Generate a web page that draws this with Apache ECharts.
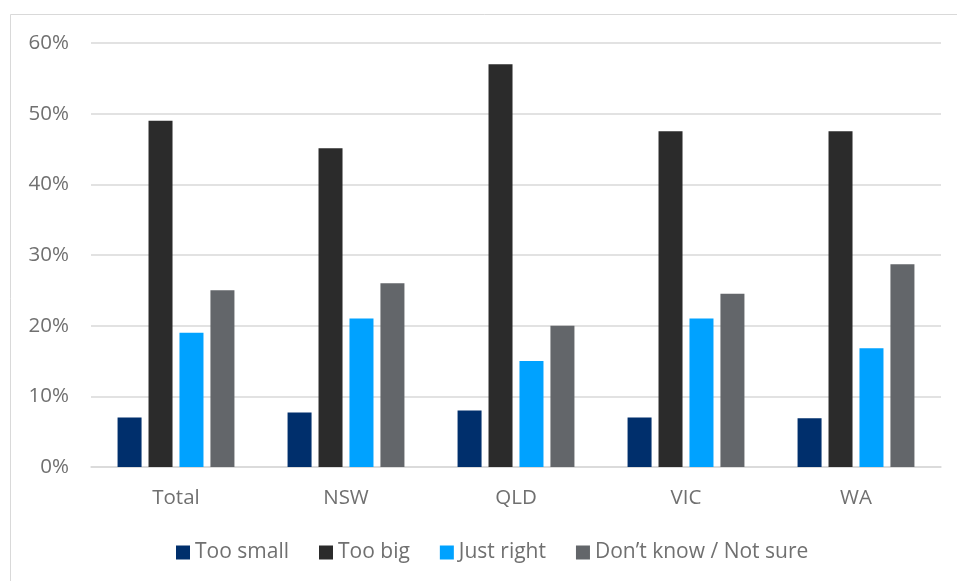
<!DOCTYPE html>
<html>
<head>
<meta charset="utf-8">
<script src="https://cdn.jsdelivr.net/npm/echarts@6/dist/echarts.min.js"></script>
<style>
  html, body { margin: 0; padding: 0; background: #fff; }
  #chart { width: 957px; height: 581px; }
</style>
</head>
<body>
<div id="chart"></div>
<script>
// Regions shown along the x axis
const regions = ['Total', 'NSW', 'QLD', 'VIC', 'WA'];

// Share of responses per region (%)
const tooSmall  = [7, 7.7, 8, 7, 6.9];
const tooBig    = [49, 45.1, 57, 47.5, 47.5];
const justRight = [19, 21, 15, 21, 16.8];
const dontKnow  = [25, 26, 20, 24.5, 28.7];

const seriesNames = ['Too small', 'Too big', 'Just right', 'Don\u2019t know / Not sure'];
const seriesColors = ['#002f6c', '#2b2b2b', '#00a2ff', '#63666a'];
const seriesData = [tooSmall, tooBig, justRight, dontKnow];

const textColor = '#707070';
const fontFamily = '"Open Sans", "Noto Sans", sans-serif';

const chart = echarts.init(document.getElementById('chart'), null, { renderer: 'canvas' });

chart.setOption({
  animation: false,
  backgroundColor: '#ffffff',
  textStyle: { fontFamily: fontFamily, color: textColor },
  graphic: [{
    type: 'rect',
    shape: { x: 10.5, y: 14.5, width: 980, height: 620 },
    style: { fill: 'none', stroke: '#d9d9d9', lineWidth: 1 },
    silent: true
  }],
  grid: { left: 91, right: 16, top: 43, bottom: 114 },
  legend: {
    bottom: 13,
    left: 171,
    itemWidth: 14,
    itemHeight: 14,
    itemGap: 30,
    icon: 'rect',
    textStyle: { fontSize: 21, color: textColor, fontFamily: fontFamily },
    data: seriesNames
  },
  xAxis: {
    type: 'category',
    data: regions,
    axisTick: { show: false },
    axisLine: { lineStyle: { color: '#d9d9d9', width: 1.5 } },
    axisLabel: { fontSize: 20.5, color: textColor, margin: 21 }
  },
  yAxis: {
    type: 'value',
    min: 0,
    max: 60,
    interval: 10,
    axisLabel: { fontSize: 20.5, color: textColor, margin: 22, formatter: '{value}%' },
    splitLine: { lineStyle: { color: '#d9d9d9', width: 1.5 } },
    axisLine: { show: false },
    axisTick: { show: false }
  },
  series: seriesNames.map((name, i) => ({
    name: name,
    type: 'bar',
    data: seriesData[i],
    barWidth: 24,
    barGap: '29%',
    itemStyle: { color: seriesColors[i] }
  }))
});
</script>
</body>
</html>
